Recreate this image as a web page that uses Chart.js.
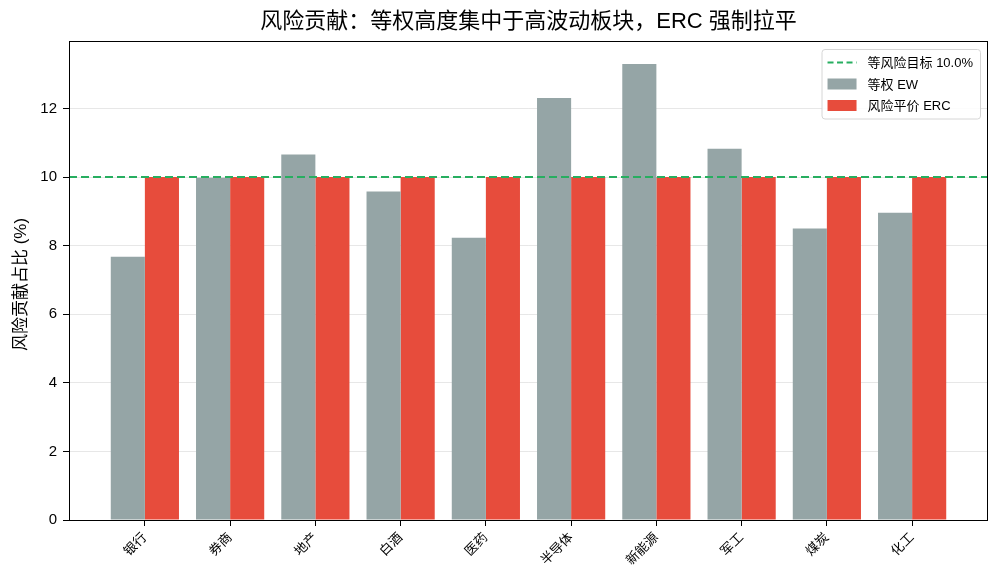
<!DOCTYPE html>
<html>
<head>
<meta charset="utf-8">
<script src="https://cdn.jsdelivr.net/npm/chart.js@4.4.1/dist/chart.umd.min.js"></script>
<style>
  html, body { margin: 0; padding: 0; background: #fff; }
  #wrap { width: 1001px; height: 584px; }
</style>
</head>
<body>
<div id="wrap"><canvas id="risk-chart" width="1001" height="584"></canvas></div>
<script>
// sector names and risk contribution shares (%)
const categories = ['银行', '券商', '地产', '白酒', '医药', '半导体', '新能源', '军工', '煤炭', '化工'];
const ewValues = [7.68, 9.98, 10.66, 9.58, 8.23, 12.31, 13.30, 10.83, 8.50, 8.96];
const ercValues = [10.0, 10.0, 10.0, 10.0, 10.0, 10.0, 10.0, 10.0, 10.0, 10.0];
const targetLevel = 10.0;
const yTicks = [0, 2, 4, 6, 8, 10, 12];
const yMax = 13.97;
const xMin = -0.89, xMax = categories.length - 1 + 0.89;

const FONT = '"Liberation Sans", "Noto Sans CJK SC", sans-serif';
const C_EW = '#95a5a6', C_ERC = '#e74c3c', C_TARGET = '#27ae60';

const toPoints = arr => arr.map((v, i) => ({ x: i, y: v }));

// frame, title, y label and matplotlib-like legend inside the axes
const decor = {
  id: 'decor',
  afterDraw(chart) {
    const { ctx, chartArea: a } = chart;
    ctx.save();
    ctx.strokeStyle = '#000';
    ctx.lineWidth = 1;
    ctx.strokeRect(a.left + 0.5, a.top + 0.5, a.right - a.left - 1, a.bottom - a.top);

    ctx.fillStyle = '#000';
    ctx.font = '22px ' + FONT;
    ctx.textAlign = 'center';
    ctx.textBaseline = 'middle';
    ctx.fillText('风险贡献：等权高度集中于高波动板块，ERC 强制拉平', (a.left + a.right) / 2, 22);

    ctx.save();
    ctx.translate(21, (a.top + a.bottom) / 2 + 4);
    ctx.rotate(-Math.PI / 2);
    ctx.font = '17px ' + FONT;
    ctx.fillText('风险贡献占比 (%)', 0, 0);
    ctx.restore();

    // legend
    ctx.font = '13px ' + FONT;
    const items = chart.data.datasets;
    const textW = Math.max(...items.map(d => ctx.measureText(d.label).width));
    const w = textW + 46 + 7, rowH = 21.5;
    const h = items.length * rowH + 5;
    const x0 = a.right - 8 - w, y0 = a.top + 8;
    ctx.beginPath();
    ctx.roundRect(x0 + 0.5, y0 + 0.5, w, h, 3);
    ctx.fillStyle = 'rgba(255,255,255,0.85)';
    ctx.fill();
    ctx.strokeStyle = '#d6d6d6';
    ctx.stroke();
    items.forEach((d, i) => {
      const cy = y0 + 13.5 + i * rowH;
      if (d.type === 'line') {
        ctx.beginPath();
        ctx.setLineDash([6, 3.5]);
        ctx.strokeStyle = d.borderColor;
        ctx.lineWidth = 2;
        ctx.moveTo(x0 + 6, cy);
        ctx.lineTo(x0 + 35, cy);
        ctx.stroke();
        ctx.setLineDash([]);
      } else {
        ctx.fillStyle = d.backgroundColor;
        ctx.fillRect(x0 + 6, cy - 5.5, 29, 11);
      }
      ctx.fillStyle = '#000';
      ctx.textAlign = 'left';
      ctx.fillText(d.label, x0 + 46, cy + 1);
    });
    ctx.restore();
  }
};

new Chart(document.getElementById('risk-chart'), {
  type: 'bar',
  data: {
    datasets: [
      {
        type: 'line',
        label: '等风险目标 ' + targetLevel.toFixed(1) + '%',
        data: [{ x: xMin, y: targetLevel }, { x: xMax, y: targetLevel }],
        borderColor: C_TARGET,
        borderWidth: 2,
        borderDash: [8, 4],
        pointRadius: 0,
        fill: false
      },
      { label: '等权 EW', data: toPoints(ewValues), backgroundColor: C_EW },
      { label: '风险平价 ERC', data: toPoints(ercValues), backgroundColor: C_ERC }
    ]
  },
  options: {
    responsive: false,
    animation: false,
    layout: { padding: { top: 41, right: 13, bottom: 0, left: 0 } },
    datasets: { bar: { categoryPercentage: 0.8, barPercentage: 1.0 } },
    plugins: { legend: { display: false }, tooltip: { enabled: false } },
    scales: {
      x: {
        type: 'linear',
        min: xMin,
        max: xMax,
        offset: false,
        grid: { offset: false, drawOnChartArea: false, drawTicks: true, tickLength: 6, tickColor: '#000' },
        border: { display: false },
        afterBuildTicks: axis => { axis.ticks = categories.map((c, i) => ({ value: i })); },
        afterFit: axis => { axis.height = 64; },
        ticks: {
          autoSkip: false,
          maxRotation: 45,
          minRotation: 45,
          padding: 4,
          color: '#000',
          font: { family: FONT, size: 13 },
          callback: v => categories[v]
        }
      },
      y: {
        min: 0,
        max: yMax,
        z: 1,
        grid: { color: 'rgba(176,176,176,0.3)', tickLength: 6, tickColor: '#000' },
        border: { display: false },
        afterBuildTicks: axis => { axis.ticks = yTicks.map(v => ({ value: v })); },
        afterFit: axis => { axis.width = 69; },
        ticks: { padding: 6, color: '#000', font: { family: FONT, size: 15 } }
      }
    }
  },
  plugins: [decor]
});
</script>
</body>
</html>
